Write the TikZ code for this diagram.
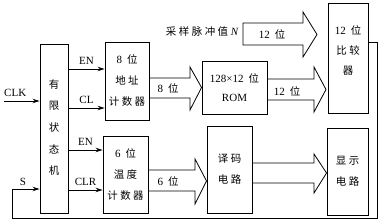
\documentclass[tikz,border=0pt]{standalone}
\usepackage{fontspec}
\setmainfont{Liberation Serif}
\newfontfamily\cjk{Noto Sans CJK SC}[Scale=0.95]
\newcommand{\zh}[1]{{\cjk #1}}
\newcommand{\gp}{\hspace{2.5pt}}
\newcommand{\wei}{\hspace{5pt}\zh{位}}
\usetikzlibrary{arrows.meta,calc}
\begin{document}
\begin{tikzpicture}[x=1pt,y=-1pt,
  blk/.style={draw,line width=0.9pt,inner sep=0pt,align=center,font=\fontsize{11}{21}\selectfont},
  ctl/.style={line width=0.8pt,-{Stealth[length=7pt,width=4.5pt]}},
  wide/.style={line width=0.8pt,line join=miter},
  lbl/.style={inner sep=0pt,font=\fontsize{11}{13}\selectfont}]
\useasboundingbox (0,0) rectangle (380,223);
% blocks
\node[blk,minimum width=28pt,minimum height=169pt] (fsm) at (54,128.5) {};
\foreach \c/\yy in {有/85,限/106,状/128,态/149,机/171}
  \node[lbl] at (54,\yy) {\zh{\c}};
\node[blk,minimum width=44pt,minimum height=78pt] (addr) at (127,81) {8\wei\\\zh{地\gp 址}\\\zh{计\gp 数\gp 器}};
\node[blk,minimum width=65pt,minimum height=53pt] (rom) at (234.5,87.5) {128×12\wei\\[-2pt]ROM};
\node[blk,minimum width=40pt,minimum height=110pt] (cmp) at (348,58) {};
\node[lbl] at (348,30) {12\wei};
\node[lbl] at (348,51) {\zh{比\gp 较}};
\node[lbl] at (348,71) {\zh{器}};
\node[blk,minimum width=45pt,minimum height=77pt] (temp) at (125.5,174.5) {6\wei\\\zh{温\gp 度}\\\zh{计\gp 数\gp 器}};
\node[blk,minimum width=45pt,minimum height=87pt] (dec) at (229.5,169.5) {\zh{译\gp 码}\\\zh{电\gp 路}};
\node[blk,minimum width=41pt,minimum height=87pt] (disp) at (347.5,171.5) {\zh{显\gp 示}\\\zh{电\gp 路}};
% control arrows
\coordinate (clk) at (4,101);
\node[lbl,anchor=south west] (clkl) at (4,97) {CLK};
\draw[ctl] (clk) -- (fsm.west |- clk);
\draw[ctl] (fsm.east |- 0,69) -- node[lbl,above=4pt] {EN} (addr.west |- 0,69);
\draw[ctl] (fsm.east |- 0,108) -- node[lbl,above=4pt] {CL} (addr.west |- 0,108);
\draw[ctl] (fsm.east |- 0,150) -- node[lbl,above=4pt] {EN} (temp.west |- 0,150);
\draw[ctl] (fsm.east |- 0,190) -- node[lbl,above=4pt] {CLR} (temp.west |- 0,190);
% feedback
\coordinate (fb1) at (377,42);
\coordinate (fb2) at (377,218);
\coordinate (fb3) at (12,218);
\coordinate (fb4) at (12,189);
\draw[ctl] (cmp.east |- fb1) -- (fb1) -- (fb2) -- (fb3) -- (fb4) -- (fsm.west |- fb4);
\node[lbl] at (23,182) {S};
% wide arrows
\draw[wide] (addr.east |- 0,78) -- (190,78) -- (190,67) -- (rom.west) -- (190,110) -- (190,98) -- (addr.east |- 0,98) ;
\node[lbl] at (168,88) {8\wei};
\draw[wide] (rom.east |- 0,79) -- (314,79) -- (314,67) -- (326,89.5) -- (314,112) -- (314,100) -- (rom.east |- 0,100);
\node[lbl] at (287,91) {12\wei};
\draw[wide] (243,23) -- (303,23) -- (303,12) -- (317,34.5) -- (303,57) -- (303,45) -- (243,45) -- cycle;
\node[lbl] at (272,34) {12\wei};
\node[lbl,anchor=east] at (239,32) {\zh{采\gp 样\gp 脉\gp 冲\gp 值} \textit{N}};
\draw[wide] (temp.east |- 0,170) -- (195,170) -- (195,159) -- (dec.west |- 0,181) -- (195,204) -- (195,191) -- (temp.east |- 0,191);
\node[lbl] at (168,181) {6\wei};
\draw[wide] (dec.east |- 0,163) -- (314,163) -- (314,154) -- (disp.west |- 0,173) -- (314,193) -- (314,183) -- (dec.east |- 0,183);
\end{tikzpicture}
\end{document}
